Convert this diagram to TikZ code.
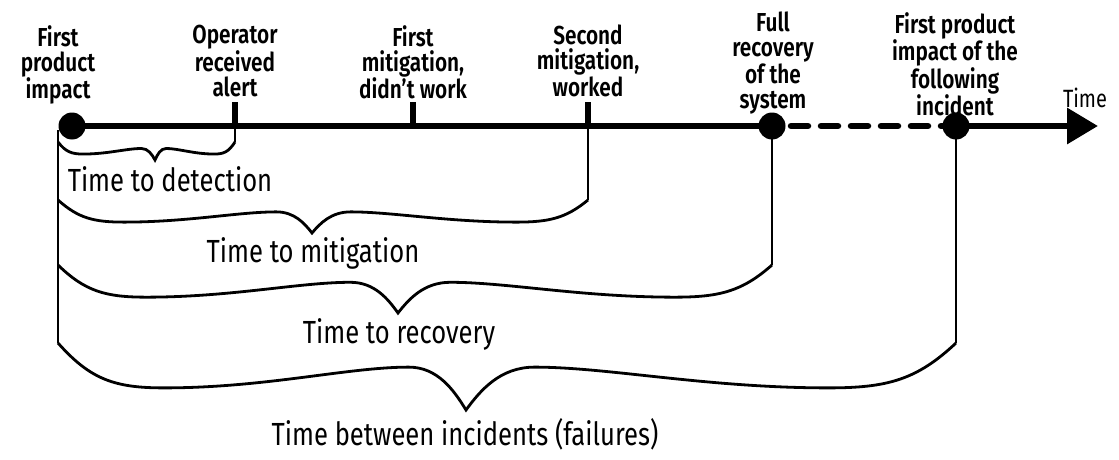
\documentclass[tikz,border=0pt]{standalone}
\usepackage{fontspec}
\setmainfont{Fira Sans}[FakeStretch=0.8,BoldFont={Fira Sans SemiBold}]
\usetikzlibrary{arrows.meta,positioning}

% curly brace from left end over the tip to right end
\newcommand{\spanbrace}[5]{%
  \pgfmathsetmacro{\bwl}{#2-#1}%
  \pgfmathsetmacro{\bwr}{#3-#2}%
  \pgfmathsetmacro{\blow}{#4+0.67*#5}%
  \pgfmathsetmacro{\bsh}{#4+0.36*#5}%
  \pgfmathsetmacro{\btip}{#4+#5}%
  \pgfmathsetmacro{\bml}{#1+0.26*\bwl}%
  \pgfmathsetmacro{\bsl}{#2-0.14*\bwl}%
  \pgfmathsetmacro{\bsr}{#2+0.14*\bwr}%
  \pgfmathsetmacro{\bmr}{#3-0.26*\bwr}%
  \draw[bracket] (#1,#4)
    .. controls ({#1+0.08*\bwl},{#4+0.55*#5}) and ({\bml-0.12*\bwl},\blow) .. (\bml,\blow)
    .. controls ({\bml+0.25*\bwl},\blow) and ({\bsl-0.15*\bwl},\bsh) .. (\bsl,\bsh)
    .. controls ({\bsl+0.07*\bwl},\bsh) and ({#2-0.03*\bwl},{\btip-0.3*#5}) .. (#2,\btip)
    .. controls ({#2+0.03*\bwr},{\btip-0.3*#5}) and ({\bsr-0.07*\bwr},\bsh) .. (\bsr,\bsh)
    .. controls ({\bsr+0.15*\bwr},\bsh) and ({\bmr-0.25*\bwr},\blow) .. (\bmr,\blow)
    .. controls ({\bmr+0.12*\bwr},\blow) and ({#3-0.08*\bwr},{#4+0.55*#5}) .. (#3,#4);
}

\begin{document}
\begin{tikzpicture}[x=1pt,y=-1pt,
axis/.style={line width=6.5pt},
tick/.style={line width=5.5pt},
dot/.style={circle,fill,inner sep=0pt,minimum size=27pt},
bracket/.style={line width=2.8pt},
event/.style={align=center,inner sep=0pt,anchor=north,font=\bfseries\fontsize{26}{25}\selectfont},
span/.style={inner sep=0pt,anchor=base,font=\fontsize{32}{36}\selectfont}]
\useasboundingbox (0,0) rectangle (1119,460);

% time line
\coordinate (impact) at (72,126);
\coordinate (alert) at (235,126);
\coordinate (firstmit) at (413,126);
\coordinate (secondmit) at (588,126);
\coordinate (recovery) at (772,126);
\coordinate (nextinc) at (956,126);
\coordinate (timeend) at (1098,126);

\draw[axis] (impact) -- (recovery);
\draw[axis,dash pattern=on 17pt off 13pt,dash phase=11pt,line cap=round] (recovery) -- (nextinc);
\draw[axis,-{Triangle[length=31pt,width=35pt]}] (nextinc) -- (timeend);
\draw[tick] (alert) -- ++(0,-24);
\draw[tick] (firstmit) -- ++(0,-24);
\draw[tick] (secondmit) -- ++(0,-24);
\node[dot] (impactdot) at (impact) {};
\node[dot] (recoverydot) at (recovery) {};
\node[dot] (nextincdot) at (nextinc) {};

\node[event] (impactlbl) at (58,25) {First\\product\\impact};
\node[event] (alertlbl) at (235,25) {Operator\\received\\alert};
\node[event] (firstmitlbl) at (413,25) {First\\mitigation,\\didn't work};
\node[event] (secondmitlbl) at (588,25) {Second\\mitigation,\\worked};
\node[event] (recoverylbl) at (773,12) {Full\\recovery\\of the\\system};
\node[event] (nextinclbl) at (955,12) {First product\\impact of the\\following\\incident};
\node[inner sep=0pt,anchor=base,font=\fontsize{25}{30}\selectfont] (timelbl) at (1085,107) {Time};

% spans below the line
\coordinate (spantop) at (58,130);
\coordinate (spanbottom) at (58,343);
\draw[bracket] (spantop) -- (spanbottom);
\draw[bracket] (alert) -- ++(0,16);
\draw[bracket] (secondmit) -- ++(0,74);
\draw[bracket] (recovery) -- ++(0,139);
\draw[bracket] (nextinc) -- ++(0,217);

\spanbrace{58}{155}{235}{142}{18}
\spanbrace{58}{312}{588}{200}{33}
\spanbrace{58}{398}{772}{265}{48}
\spanbrace{58}{466}{956}{343}{67}

\node[span] (detection) at (170,191) {Time to detection};
\node[span] (mitigation) at (313,262) {Time to mitigation};
\node[span] (recoveryspan) at (399,343) {Time to recovery};
\node[span] (between) at (465,445) {Time between incidents (failures)};
\end{tikzpicture}
\end{document}
